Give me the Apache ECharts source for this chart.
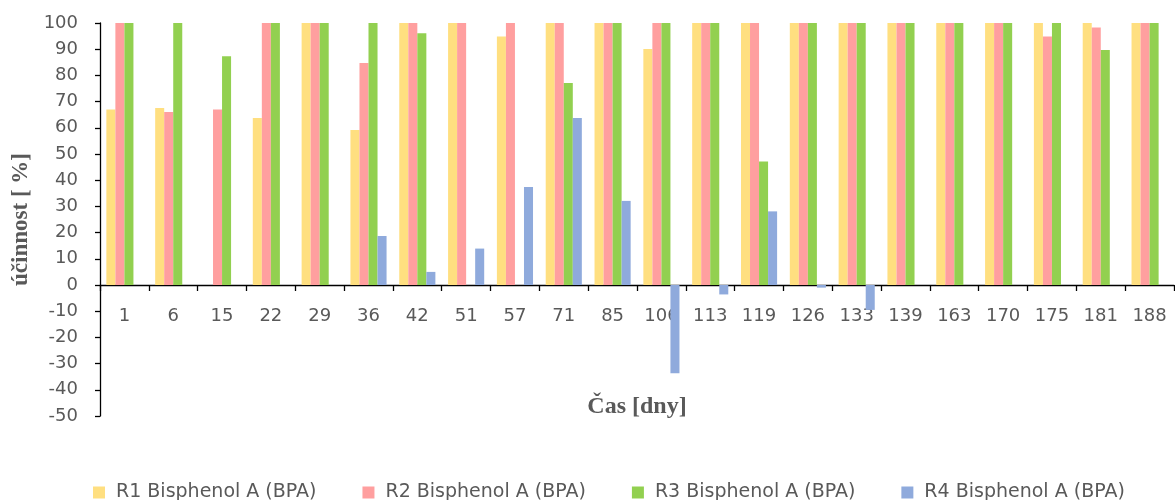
<!DOCTYPE html>
<html>
<head>
<meta charset="utf-8">
<script src="https://cdn.jsdelivr.net/npm/echarts@6/dist/echarts.min.js"></script>
<style>html,body{margin:0;padding:0;background:#fff}#c{width:1175px;height:500px}</style>
</head>
<body>
<div id="c"></div>
<script>
const categories = ['1','6','15','22','29','36','42','51','57','71','85','106','113','119','126','133','139','163','170','175','181','188'];
const r1 = [67, 67.6, null, 63.7, 100, 59.2, 100, 100, 94.8, 100, 100, 90.1, 100, 100, 100, 100, 100, 100, 100, 100, 100, 100];
const r2 = [100, 66, 67, 100, 100, 84.7, 100, 100, 100, 100, 100, 100, 100, 100, 100, 100, 100, 100, 100, 94.8, 98.3, 100];
const r3 = [100, 100, 87.3, 100, 100, 100, 96.1, null, null, 77.1, 100, 100, 100, 47.1, 100, 100, 100, 100, 100, 100, 89.7, 100];
const r4 = [null, null, null, null, null, 18.7, 5.0, 13.9, 37.4, 63.7, 32.1, -33.7, -3.6, 28.1, -1.0, -9.5, null, null, null, null, null, null];
const seriesNames = ['R1 Bisphenol A (BPA)', 'R2 Bisphenol A (BPA)', 'R3 Bisphenol A (BPA)', 'R4 Bisphenol A (BPA)'];
const colors = ['#FFDF80', '#FF9F9F', '#92D050', '#8FAADC'];
const yTicks = {min: -50, max: 100, interval: 10};

const chart = echarts.init(document.getElementById('c'), null, {renderer: 'canvas'});
const labelFont = 'DejaVu Sans';
const dataSets = [r1, r2, r3, r4];
const gridTop = 23, gridBottom = 84, H = 500;
const plotH = H - gridTop - gridBottom;
// move the category axis up to the zero line of the value axis
const zeroOffset = -plotH * (0 - yTicks.min) / (yTicks.max - yTicks.min);
chart.setOption({
  animation: false,
  backgroundColor: '#ffffff',
  color: colors,
  grid: {left: 100, right: 1, top: gridTop, bottom: gridBottom, containLabel: false, outerBoundsMode: 'none'},
  legend: {
    left: 88, top: 478,
    itemWidth: 12, itemHeight: 12, itemGap: 46,
    icon: 'rect',
    textStyle: {fontFamily: labelFont, fontSize: 19, color: '#595959', padding: [0, 0, 0, 6]},
    data: seriesNames
  },
  xAxis: {
    type: 'category',
    data: categories,
    position: 'bottom',
    offset: zeroOffset,
    name: 'Čas [dny]',
    nameLocation: 'middle',
    nameGap: 110,
    nameTextStyle: {fontFamily: 'Liberation Serif', fontWeight: 'bold', fontSize: 24, color: '#595959'},
    axisLine: {show: true, onZero: false, lineStyle: {color: '#000', width: 1.3}},
    axisTick: {show: true, length: 6, lineStyle: {color: '#000', width: 1.3}},
    axisLabel: {fontFamily: labelFont, fontSize: 18, color: '#595959', margin: 22, interval: 0},
    splitLine: {show: false}
  },
  yAxis: {
    type: 'value',
    min: yTicks.min, max: yTicks.max, interval: yTicks.interval,
    name: 'účinnost [ %]',
    nameLocation: 'middle',
    nameGap: 64,
    nameTextStyle: {fontFamily: 'Liberation Serif', fontWeight: 'bold', fontSize: 23, color: '#595959'},
    axisLine: {show: true, lineStyle: {color: '#000', width: 1.3}},
    axisTick: {show: true, length: 5, lineStyle: {color: '#000', width: 1.3}},
    axisLabel: {fontFamily: labelFont, fontSize: 18, color: '#595959', margin: 22},
    splitLine: {show: false}
  },
  series: dataSets.map((d, i) => ({
    name: seriesNames[i],
    type: 'bar',
    data: d,
    barGap: '0%',
    barCategoryGap: '26%',
    itemStyle: {color: colors[i]}
  }))
});
</script>
</body>
</html>
